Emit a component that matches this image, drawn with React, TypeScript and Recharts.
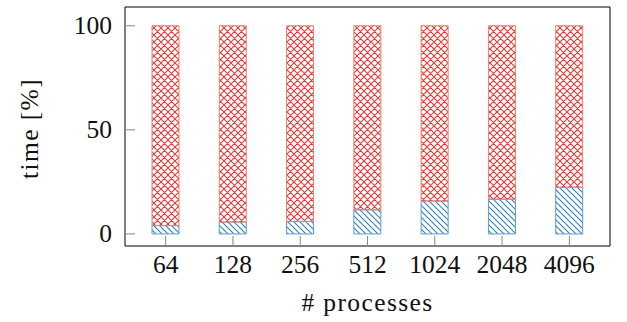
import React from 'react';
import { BarChart, Bar, XAxis, YAxis, Label } from 'recharts';

// process counts on the x axis
const processes = ['64', '128', '256', '512', '1024', '2048', '4096'];
// share of time (%) for the lower (blue) part, the rest is the upper (red) part
const lowerShare = [4, 5.7, 6, 11.6, 15.8, 16.7, 22.4];
const upperShare = lowerShare.map((v) => 100 - v);
const yTicks = [0, 50, 100];

const data = processes.map((p, i) => ({ p, lower: lowerShare[i], upper: upperShare[i] }));

const FONT = '"Liberation Serif", "DejaVu Serif", serif';
const BLUE = '#2f7fc4';
const RED = '#e03a36';
const TXT = { fontFamily: FONT, fontSize: 25.5, fill: '#111' };
const LABEL = { ...TXT, letterSpacing: 1.4 };

const XTick = (props: any) => {
  const { x, y, payload } = props;
  return (
    <text x={x} y={y + 15} textAnchor="middle" style={TXT}>
      {payload.value}
    </text>
  );
};

const YTick = (props: any) => {
  const { x, y, payload } = props;
  return (
    <text x={x - 1} y={y + 8.5} textAnchor="end" style={TXT}>
      {payload.value}
    </text>
  );
};

export default function App() {
  return (
    <div style={{ position: 'absolute', left: 0, top: 0, width: 627, height: 322, background: '#fff', fontFamily: FONT }}>
      <BarChart
        width={627}
        height={322}
        data={data}
        margin={{ top: 6, right: 16, left: 0, bottom: 0 }}
        barSize={27}
      >
        <defs>
          <pattern id="nwlines" patternUnits="userSpaceOnUse" width="6" height="6">
            <path d="M-1,-1 L7,7 M-1,5 L1,7 M5,-1 L7,1" stroke={BLUE} strokeWidth="1.1" />
          </pattern>
          <pattern id="crosshatch" patternUnits="userSpaceOnUse" width="7" height="7">
            <path d="M-1,-1 L8,8 M-1,6 L1,8 M6,-1 L8,1 M8,-1 L-1,8 M-1,1 L1,-1 M6,8 L8,6" stroke={RED} strokeWidth="1.1" />
          </pattern>
        </defs>
        <XAxis
          dataKey="p"
          height={76}
          padding={{ left: 7, right: 7 }}
          axisLine={{ stroke: '#000', strokeWidth: 1 }}
          tickLine={{ stroke: '#888' }}
          tickSize={-10}
          tickMargin={22}
          tick={<XTick />}
          interval={0}
        >
          <Label
            position="insideBottom"
            content={(p: any) => (
              <text x={p.viewBox.x + p.viewBox.width / 2} y={p.viewBox.y + p.viewBox.height - 11} textAnchor="middle" style={LABEL}>
                # processes
              </text>
            )}
          />
        </XAxis>
        <XAxis
          xAxisId="top"
          dataKey="p"
          orientation="top"
          height={1}
          padding={{ left: 7, right: 7 }}
          axisLine={{ stroke: '#000', strokeWidth: 1 }}
          tickLine={{ stroke: '#888' }}
          tickSize={-10}
          tick={false}
          interval={0}
        />
        <YAxis
          width={125}
          domain={[-5.8, 109]}
          ticks={yTicks}
          allowDataOverflow
          axisLine={{ stroke: '#000', strokeWidth: 1 }}
          tickLine={{ stroke: '#888' }}
          tickSize={-10}
          tickMargin={22}
          tick={<YTick />}
        >
          <Label
            position="center"
            content={(p: any) => {
              const cx = 37.5;
              const cy = p.viewBox.y + p.viewBox.height / 2 + 2;
              return (
                <text x={cx} y={cy} transform={`rotate(-90 ${cx} ${cy})`} textAnchor="middle" style={LABEL}>
                  time [%]
                </text>
              );
            }}
          />
        </YAxis>
        <YAxis
          yAxisId="right"
          orientation="right"
          width={1}
          domain={[-5.8, 109]}
          ticks={yTicks}
          allowDataOverflow
          axisLine={{ stroke: '#000', strokeWidth: 1 }}
          tickLine={{ stroke: '#888' }}
          tickSize={-10}
          tick={false}
        />
        <Bar dataKey="lower" stackId="a" fill="url(#nwlines)" stroke="#5a9ad6" strokeWidth={1} isAnimationActive={false} />
        <Bar dataKey="upper" stackId="a" fill="url(#crosshatch)" stroke="#e8826e" strokeWidth={1} isAnimationActive={false} />
      </BarChart>
    </div>
  );
}
